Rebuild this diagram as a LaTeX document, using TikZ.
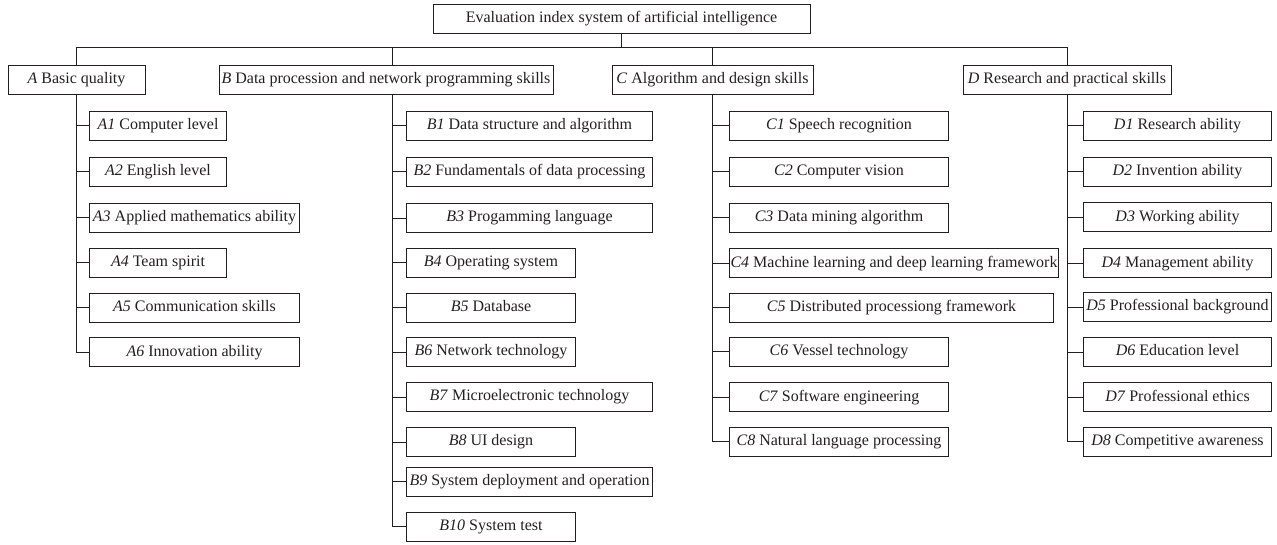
\documentclass[tikz,border=0pt]{standalone}
\usepackage{fontspec}
\setmainfont{Liberation Serif}
\definecolor{lineclr}{HTML}{231F20}
\begin{document}
\begin{tikzpicture}[x=1pt,y=-1pt,
  box/.style={draw=lineclr,line width=1pt,minimum height=29pt,inner sep=0pt,
    text height=11pt,text depth=3.5pt,
    font=\fontsize{16}{18}\selectfont,text=lineclr},
  kid/.style={box,anchor=west},
  link/.style={draw=lineclr,line width=0.9pt}]
\useasboundingbox (0,0) rectangle (1277,544);

% root and the four first-level groups
\node[box,minimum width=377pt] (root) at (621.5,18.5) {Evaluation index system of artificial intelligence};
\node[box,minimum width=137pt] (A) at (76.5,79.5) {\textit{A} Basic quality};
\node[box,minimum width=334pt] (B) at (386,79.5) {\textit{B} Data procession and network programming skills};
\node[box,minimum width=201pt] (C) at (712.5,79.5) {\textit{C} Algorithm and design skills};
\node[box,minimum width=208pt] (D) at (1067,79.5) {\textit{D} Research and practical skills};

% trunk x-positions of each group
\coordinate (ax) at (76.5,0);
\coordinate (bx) at (392,0);
\coordinate (cx) at (712.5,0);
\coordinate (dx) at (1067,0);
\coordinate (bus) at (0,47);

% second-level items
\foreach \n/\w/\y/\t in {
  A1/137/125.5/{\textit{A1} Computer level},
  A2/137/171.5/{\textit{A2} English level},
  A3/210/217.8/{\textit{A3} Applied mathematics ability},
  A4/137/262.8/{\textit{A4} Team spirit},
  A5/210/307.8/{\textit{A5} Communication skills},
  A6/210/352.3/{\textit{A6} Innovation ability}}
  \node[kid,minimum width=\w pt] (\n) at (89,\y) {\t};

\foreach \n/\w/\y/\t in {
  B1/246/125.5/{\textit{B1} Data structure and algorithm},
  B2/246/171.5/{\textit{B2} Fundamentals of data processing},
  B3/246/218/{\textit{B3} Progamming language},
  B4/169/262.8/{\textit{B4} Operating system},
  B5/169/307.6/{\textit{B5} Database},
  B6/169/352.2/{\textit{B6} Network technology},
  B7/246/397.2/{\textit{B7} Microelectronic technology},
  B8/169/442.2/{\textit{B8} UI design},
  B9/246/481.7/{\textit{B9} System deployment and operation},
  B10/169/526.7/{\textit{B10} System test}}
  \node[kid,minimum width=\w pt] (\n) at (406,\y) {\t};

\foreach \n/\w/\y/\t in {
  C1/219/125.5/{\textit{C1} Speech recognition},
  C2/219/171.5/{\textit{C2} Computer vision},
  C3/219/217.5/{\textit{C3} Data mining algorithm},
  C4/329/263.3/{\textit{C4} Machine learning and deep learning framework},
  C5/324/307.5/{\textit{C5} Distributed processiong framework},
  C6/219/351.8/{\textit{C6} Vessel technology},
  C7/219/397.3/{\textit{C7} Software engineering},
  C8/219/441.5/{\textit{C8} Natural language processing}}
  \node[kid,minimum width=\w pt] (\n) at (729,\y) {\t};

\foreach \n/\y/\t in {
  D1/125.5/{\textit{D1} Research ability},
  D2/171.5/{\textit{D2} Invention ability},
  D3/217.3/{\textit{D3} Working ability},
  D4/263.3/{\textit{D4} Management ability},
  D5/307.2/{\textit{D5} Professional background},
  D6/352/{\textit{D6} Education level},
  D7/397.3/{\textit{D7} Professional ethics},
  D8/441.5/{\textit{D8} Competitive awareness}}
  \node[kid,minimum width=188pt] (\n) at (1083,\y) {\t};

% top-level bus
\draw[link] (root.south) -- (root.south |- bus);
\draw[link] (A.north) -- (A.north |- bus) -- (D.north |- bus) -- (D.north);
\draw[link] (bx |- B.north) -- (bx |- bus);
\draw[link] (C.north) -- (C.north |- bus);

% group trunks
\draw[link] (A.south) |- (A6.west);
\draw[link] (bx |- B.south) |- (B10.west);
\draw[link] (C.south) |- (C8.west);
\draw[link] (D.south) |- (D8.west);

% branch stubs
\foreach \n in {A1,A2,A3,A4,A5} \draw[link] (ax |- \n.west) -- (\n.west);
\foreach \n in {B1,B2,B3,B4,B5,B6,B7,B8,B9} \draw[link] (bx |- \n.west) -- (\n.west);
\foreach \n in {C1,C2,C3,C4,C5,C6,C7} \draw[link] (cx |- \n.west) -- (\n.west);
\foreach \n in {D1,D2,D3,D4,D5,D6,D7} \draw[link] (dx |- \n.west) -- (\n.west);
\end{tikzpicture}
\end{document}
